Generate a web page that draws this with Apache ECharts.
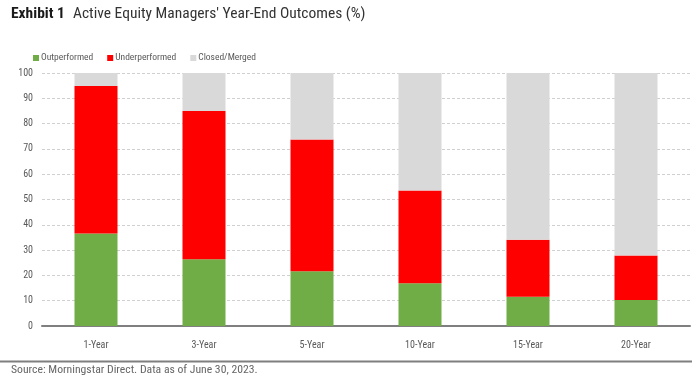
<!DOCTYPE html>
<html><head><meta charset="utf-8">
<script src="https://cdn.jsdelivr.net/npm/echarts@6/dist/echarts.min.js"></script>
<style>html,body{margin:0;padding:0;background:#fff}#c{width:696px;height:381px}</style>
</head><body><div id="c"></div>
<script>
const categories = ['1-Year','3-Year','5-Year','10-Year','15-Year','20-Year'];
const outperformed = [36.6, 26.4, 21.6, 16.9, 11.6, 10.3];
const underperformed = [58.3, 58.6, 52.1, 36.7, 22.5, 17.6];
const closedMerged = [5.1, 15.0, 26.3, 46.4, 65.9, 72.1];
const yTicks = [0,10,20,30,40,50,60,70,80,90,100];

const FONT = '"Roboto Condensed", "DejaVu Sans Condensed", sans-serif';
const chart = echarts.init(document.getElementById('c'));
chart.setOption({
  animation: false,
  textStyle: {fontFamily: FONT},
  title: [
    {text: 'Exhibit 1', left: 11, top: 6, padding: 0, textStyle: {fontFamily: FONT, fontSize: 15.5, fontWeight: 'bold', color: '#1a1a1a'}},
    {text: "Active Equity Managers' Year-End Outcomes (%)", left: 73, top: 6, padding: 0, textStyle: {fontFamily: FONT, fontSize: 15.5, fontWeight: 'normal', color: '#333'}},
    {text: 'Source: Morningstar Direct. Data as of June 30, 2023.', left: 11, top: 364, padding: 0, textStyle: {fontFamily: FONT, fontSize: 11.7, fontWeight: 'normal', color: '#666'}}
  ],
  legend: {
    left: 28, top: 48, itemWidth: 6, itemHeight: 6, itemGap: 14,
    icon: 'rect',
    textStyle: {fontFamily: FONT, fontSize: 9.5, color: '#595959', padding: [0,0,0,-3]},
    data: ['Outperformed','Underperformed','Closed/Merged']
  },
  grid: {left: 42, right: 6, top: 73, bottom: 55, containLabel: false},
  xAxis: {
    type: 'category', data: categories,
    axisLine: {lineStyle: {color: '#7f7f7f', width: 2}},
    axisTick: {show: false},
    axisLabel: {fontFamily: FONT, fontSize: 10, color: '#595959', margin: 14}
  },
  yAxis: {
    type: 'value', min: 0, max: 100, interval: 10,
    axisLine: {show: false}, axisTick: {show: false},
    axisLabel: {fontFamily: FONT, fontSize: 10, color: '#595959', margin: 9,
      formatter: v => yTicks.includes(v) ? String(v) : ''},
    splitLine: {lineStyle: {color: '#d0d0d0', type: [3,2], width: 1}}
  },
  series: [
    {name: 'Outperformed', type: 'bar', stack: 's', data: outperformed, barWidth: 43,
      itemStyle: {color: '#70AD47'}},
    {name: 'Underperformed', type: 'bar', stack: 's', data: underperformed, barWidth: 43,
      itemStyle: {color: '#FF0000'}},
    {name: 'Closed/Merged', type: 'bar', stack: 's', data: closedMerged, barWidth: 43,
      itemStyle: {color: '#D9D9D9'}}
  ],
  graphic: [
    {type: 'line', shape: {x1: 0, y1: 361.5, x2: 692, y2: 361.5}, style: {stroke: '#7f7f7f', lineWidth: 2}}
  ]
});
</script></body></html>
